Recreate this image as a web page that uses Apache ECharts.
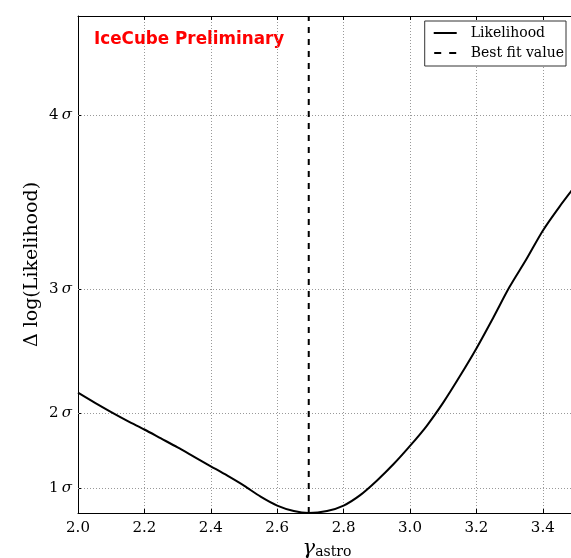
<!DOCTYPE html>
<html><head><meta charset="utf-8">
<script src="https://cdn.jsdelivr.net/npm/echarts@6/dist/echarts.min.js"></script>
<style>html,body{margin:0;padding:0;background:#fff}#c{width:571px;height:558px}</style>
</head><body><div id="c"></div>
<script>
const gamma = [2.00, 2.05, 2.10, 2.15, 2.20, 2.25, 2.30, 2.35, 2.40, 2.45, 2.50, 2.55, 2.60, 2.65, 2.695, 2.75, 2.80, 2.85, 2.90, 2.95, 3.00, 3.05, 3.10, 3.15, 3.20, 3.25, 3.30, 3.35, 3.40, 3.45, 3.50];
const dlogL = [2.42, 2.22, 2.03, 1.85, 1.68, 1.50, 1.32, 1.13, 0.94, 0.75, 0.55, 0.33, 0.15, 0.04, 0.00, 0.04, 0.15, 0.36, 0.65, 0.98, 1.35, 1.75, 2.22, 2.75, 3.31, 3.92, 4.55, 5.10, 5.68, 6.16, 6.60];
const bestFit = 2.695;
const sigmaValues = [0.5, 2, 4.5, 8];
const sigmaLabels = ['1', '2', '3', '4'];
const xMin = 2.0, xMax = 3.5, xStep = 0.2;
const yMin = 0, yMax = 10;

const serif = 'DejaVu Serif';
const chart = echarts.init(document.getElementById('c'), null, {renderer: 'canvas'});
const gridLine = {type: [1, 2], color: '#999', width: 1};
chart.setOption({
  animation: false,
  backgroundColor: '#fff',
  grid: {left: 78, top: 16, width: 498, bottom: 45, containLabel: false, outerBoundsMode: 'none'},
  graphic: [{
    type: 'text', left: 94, top: 31,
    style: {text: 'IceCube Preliminary', fill: '#ff0000', font: 'bold 16.8px "DejaVu Sans"'}
  }],
  legend: {
    orient: 'vertical', right: 5, top: 21,
    padding: [5, 2, 6, 9], itemGap: 6,
    itemWidth: 23, itemHeight: 2,
    borderColor: '#333', borderWidth: 1, borderRadius: 0,
    backgroundColor: '#fff',
    textStyle: {fontFamily: serif, fontSize: 14, color: '#000', padding: [0, 0, 0, 9], lineHeight: 14, height: 14},
    data: [
      {name: 'Likelihood', icon: 'path://M0 0H23V2H0Z'},
      {name: 'Best fit value', icon: 'path://M0 0H7V2H0Z M15 0H22V2H15Z'}
    ]
  },
  xAxis: [{
    type: 'value', min: xMin, max: xMax, interval: xStep,
    name: '{g|γ}{s|astro}', nameLocation: 'middle', nameGap: 22, nameMoveOverlap: false,
    nameTextStyle: {
      rich: {
        g: {fontFamily: serif, fontSize: 21, fontStyle: 'italic', color: '#000', verticalAlign: 'bottom'},
        s: {fontFamily: serif, fontSize: 14, color: '#000', padding: [10, 0, 0, 0], verticalAlign: 'bottom'}
      }
    },
    axisLine: {lineStyle: {color: '#000', width: 1}},
    axisTick: {inside: true, length: 4, lineStyle: {color: '#000'}},
    axisLabel: {fontFamily: serif, fontSize: 15, color: '#000', margin: 8, showMaxLabel: false,
      formatter: v => v.toFixed(1)},
    splitLine: {show: true, lineStyle: gridLine}
  }, {
    type: 'value', min: xMin, max: xMax, interval: xStep, position: 'top',
    axisLine: {show: true, onZero: false, lineStyle: {color: '#000', width: 1}},
    axisTick: {inside: true, length: 4, lineStyle: {color: '#000'}},
    axisLabel: {show: false}, splitLine: {show: false}
  }],
  yAxis: {
    type: 'value', min: yMin, max: yMax,
    name: 'Δ log(Likelihood)', nameLocation: 'middle', nameGap: 36, nameMoveOverlap: false,
    nameTextStyle: {fontFamily: serif, fontSize: 19, color: '#000'},
    axisLine: {show: true, lineStyle: {color: '#000', width: 1}},
    axisTick: {show: true, inside: true, length: 4, customValues: sigmaValues, lineStyle: {color: '#000'}},
    axisLabel: {
      customValues: sigmaValues, margin: 6,
      formatter: v => '{n|' + sigmaLabels[sigmaValues.indexOf(v)] + '} {s|σ}',
      rich: {
        n: {fontFamily: serif, fontSize: 15, color: '#000'},
        s: {fontFamily: serif, fontSize: 15, fontStyle: 'italic', color: '#000'}
      }
    },
    splitLine: {show: false}
  },
  series: [{
    name: 'Likelihood', type: 'line', symbol: 'none', smooth: 0.3,
    data: gamma.map((g, i) => [g, dlogL[i]]),
    lineStyle: {color: '#000', width: 2}, itemStyle: {color: '#000'},
    z: 3,
    markLine: {
      silent: true, symbol: 'none', label: {show: false},
      lineStyle: gridLine, z: 1,
      data: sigmaValues.map(v => ({yAxis: v}))
    }
  }, {
    name: 'Best fit value', type: 'line', symbol: 'none',
    data: [[bestFit, yMin], [bestFit, yMax]],
    lineStyle: {color: '#000', width: 2, type: [6, 6]}, itemStyle: {color: '#000'},
    z: 4
  }]
});
</script></body></html>
